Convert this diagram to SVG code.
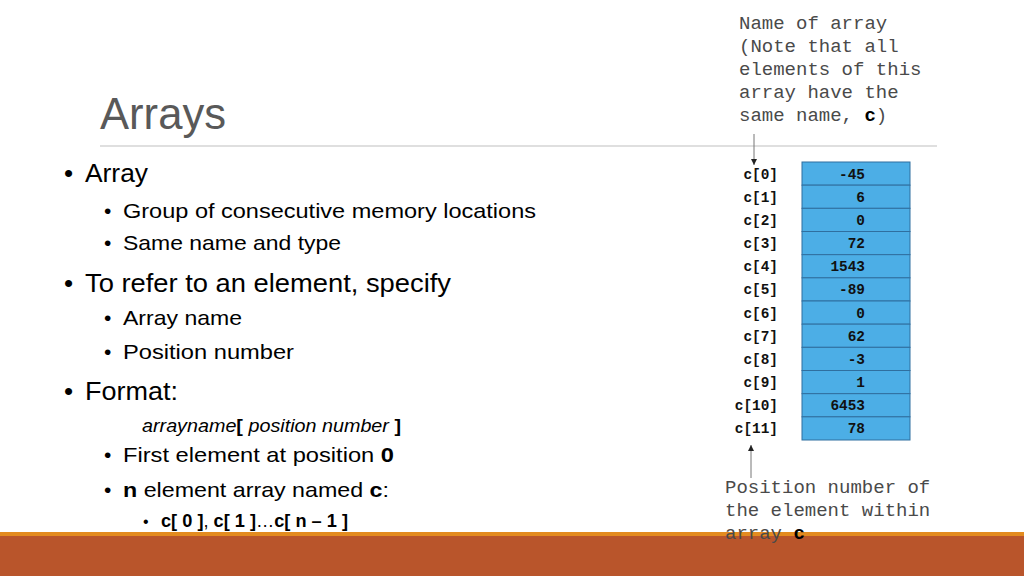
<svg xmlns="http://www.w3.org/2000/svg" width="1024" height="576" viewBox="0 0 1024 576">
<defs>
<style>
.t{font-family:"Liberation Sans",Arial,sans-serif;fill:#000}
.l1{font-size:26px}
.l2{font-size:21px}
.l3{font-size:18px}
.b{font-weight:bold}
.i{font-style:italic}
.mono{font-family:"Liberation Mono","Courier New",monospace;font-size:19px;fill:#4a4a4a}
.lab{font-family:"Liberation Mono","Courier New",monospace;font-size:14.4px;font-weight:bold;fill:#111;text-anchor:end}
.cell{fill:#4CAEE6;stroke:#2F6F9F;stroke-width:1}
.conn{stroke:#777;stroke-width:1;fill:none}
</style>
<marker id="ah" markerWidth="8" markerHeight="8" refX="6" refY="4" orient="auto" markerUnits="userSpaceOnUse">
<path d="M0,1 L6,4 L0,7 Z" fill="#222"/>
</marker>
</defs>
<rect width="1024" height="576" fill="#fff"/>

<g id="title">
<text x="100" y="129" class="t" style="font-size:45px;fill:#595959" textLength="126" lengthAdjust="spacingAndGlyphs">Arrays</text>
<line x1="100" y1="146" x2="937" y2="146" stroke="#d4d4d4" stroke-width="1.5"/>
</g>

<g id="bullets">
<text x="64" y="182" class="t l1">•</text>
<text x="85" y="182" class="t l1" textLength="63" lengthAdjust="spacingAndGlyphs">Array</text>
<text x="104" y="218" class="t l2">•</text>
<text x="123" y="218" class="t l2" textLength="413" lengthAdjust="spacingAndGlyphs">Group of consecutive memory locations</text>
<text x="104" y="250" class="t l2">•</text>
<text x="123" y="250" class="t l2" textLength="218" lengthAdjust="spacingAndGlyphs">Same name and type</text>
<text x="64" y="292" class="t l1">•</text>
<text x="85" y="292" class="t l1" textLength="366" lengthAdjust="spacingAndGlyphs">To refer to an element, specify</text>
<text x="104" y="325" class="t l2">•</text>
<text x="123" y="325" class="t l2" textLength="119" lengthAdjust="spacingAndGlyphs">Array name</text>
<text x="104" y="359" class="t l2">•</text>
<text x="123" y="359" class="t l2" textLength="171" lengthAdjust="spacingAndGlyphs">Position number</text>
<text x="64" y="400" class="t l1">•</text>
<text x="85" y="400" class="t l1" textLength="93" lengthAdjust="spacingAndGlyphs">Format:</text>
<text x="142" y="432" class="t l3" textLength="259" lengthAdjust="spacingAndGlyphs"><tspan class="i">arrayname</tspan><tspan class="b">[</tspan><tspan class="i"> position number </tspan><tspan class="b">]</tspan></text>
<text x="104" y="462" class="t l2">•</text>
<text x="123" y="462" class="t l2" textLength="271" lengthAdjust="spacingAndGlyphs">First element at position <tspan class="b">0</tspan></text>
<text x="104" y="497" class="t l2">•</text>
<text x="123" y="497" class="t l2" textLength="266" lengthAdjust="spacingAndGlyphs"><tspan class="b">n</tspan> element array named <tspan class="b">c</tspan>:</text>
<text x="143" y="527" class="t" style="font-size:16px">•</text>
<text x="161" y="527" class="t l3" textLength="187" lengthAdjust="spacingAndGlyphs"><tspan class="b">c[ 0 ]</tspan>, <tspan class="b">c[ 1 ]</tspan>…<tspan class="b">c[ n – 1 ]</tspan></text>
</g>

<g id="bottom-bar">
<rect x="0" y="532" width="1024" height="4" fill="#E38B1F"/>
<rect x="0" y="536" width="1024" height="40" fill="#B9552B"/>
</g>

<g id="note-name">
<text class="mono" x="739" y="29">Name of array</text>
<text class="mono" x="739" y="52">(Note that all</text>
<text class="mono" x="739" y="75">elements of this</text>
<text class="mono" x="739" y="98">array have the</text>
<text class="mono" x="739" y="121">same name, <tspan font-weight="bold" fill="#000">c</tspan>)</text>
</g>

<g id="note-position">
<text class="mono" x="725" y="493">Position number of</text>
<text class="mono" x="725" y="516">the element within</text>
<text class="mono" x="725" y="539">array <tspan font-weight="bold" fill="#000">c</tspan></text>
</g>

<g id="array">
<rect class="cell" x="802" y="162" width="108" height="23.17"/>
<rect class="cell" x="802" y="185.17" width="108" height="23.17"/>
<rect class="cell" x="802" y="208.33" width="108" height="23.17"/>
<rect class="cell" x="802" y="231.5" width="108" height="23.17"/>
<rect class="cell" x="802" y="254.67" width="108" height="23.17"/>
<rect class="cell" x="802" y="277.83" width="108" height="23.17"/>
<rect class="cell" x="802" y="301" width="108" height="23.17"/>
<rect class="cell" x="802" y="324.17" width="108" height="23.17"/>
<rect class="cell" x="802" y="347.33" width="108" height="23.17"/>
<rect class="cell" x="802" y="370.5" width="108" height="23.17"/>
<rect class="cell" x="802" y="393.67" width="108" height="23.17"/>
<rect class="cell" x="802" y="416.83" width="108" height="23.17"/>
<text class="lab" x="865" y="178.5">-45</text>
<text class="lab" x="865" y="201.7">6</text>
<text class="lab" x="865" y="224.8">0</text>
<text class="lab" x="865" y="248">72</text>
<text class="lab" x="865" y="271.2">1543</text>
<text class="lab" x="865" y="294.3">-89</text>
<text class="lab" x="865" y="317.5">0</text>
<text class="lab" x="865" y="340.7">62</text>
<text class="lab" x="865" y="363.8">-3</text>
<text class="lab" x="865" y="387">1</text>
<text class="lab" x="865" y="410.2">6453</text>
<text class="lab" x="865" y="433.3">78</text>
</g>

<g id="indices">
<text class="lab" x="778" y="178.5">c[0]</text>
<text class="lab" x="778" y="201.7">c[1]</text>
<text class="lab" x="778" y="224.8">c[2]</text>
<text class="lab" x="778" y="248">c[3]</text>
<text class="lab" x="778" y="271.2">c[4]</text>
<text class="lab" x="778" y="294.3">c[5]</text>
<text class="lab" x="778" y="317.5">c[6]</text>
<text class="lab" x="778" y="340.7">c[7]</text>
<text class="lab" x="778" y="363.8">c[8]</text>
<text class="lab" x="778" y="387">c[9]</text>
<text class="lab" x="778" y="410.2">c[10]</text>
<text class="lab" x="778" y="433.3">c[11]</text>
</g>

<g id="connectors">
<line class="conn" x1="754" y1="134" x2="754" y2="165" marker-end="url(#ah)"/>
<line class="conn" x1="751" y1="478" x2="751" y2="445" marker-end="url(#ah)"/>
</g>
</svg>
